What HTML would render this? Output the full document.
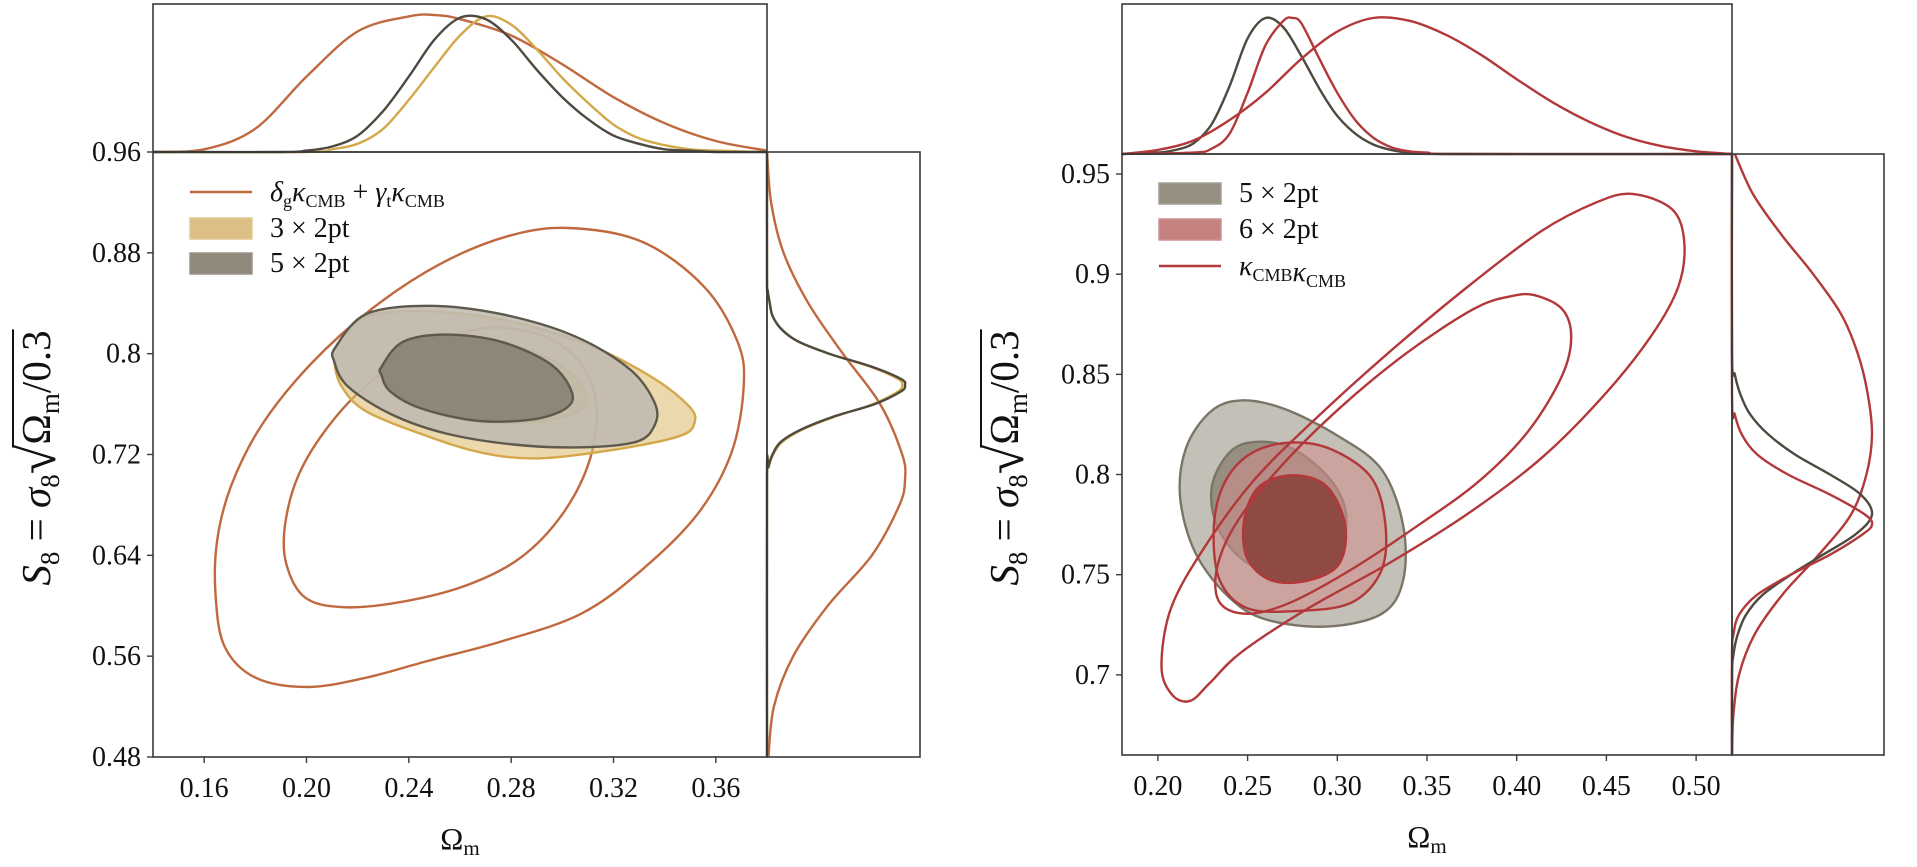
<!DOCTYPE html>
<html><head><meta charset="utf-8"><style>
html,body{margin:0;padding:0;background:#fff;}
svg{display:block;}
text{font-family:"Liberation Serif",serif;fill:#111;}
</style></head><body>
<svg id="fig" width="1917" height="867" viewBox="0 0 1917 867">
<g id="left"></g>
<g id="right"></g>
</svg>
<script>
// ---------- LEFT PANEL DATA ----------
const L_xTicks=[0.16,0.20,0.24,0.28,0.32,0.36];
const L_xTickLabels=["0.16","0.20","0.24","0.28","0.32","0.36"];
const L_yTicks=[0.48,0.56,0.64,0.72,0.80,0.88,0.96];
const L_yTickLabels=["0.48","0.56","0.64","0.72","0.8","0.88","0.96"];
const L_outerOm=[0.3025,0.3313,0.3553,0.3685,0.3709,0.3661,0.3529,0.3313,0.3073,0.2761,0.2473,0.2233,0.2005,0.1801,0.1681,0.1645,0.1650,0.1705,0.1825,0.2017,0.2257,0.2521,0.2785];
const L_outerS8=[0.8997,0.8887,0.8534,0.8094,0.7741,0.7213,0.6729,0.6288,0.5936,0.5716,0.5562,0.5429,0.5355,0.5429,0.5672,0.6068,0.6508,0.6949,0.7433,0.7918,0.8358,0.8710,0.8931];
const L_innerOm=[0.2785,0.2953,0.3073,0.3133,0.3109,0.3001,0.2833,0.2617,0.2353,0.2137,0.1993,0.1921,0.1916,0.1969,0.2089,0.2257,0.2473,0.2641];
const L_innerS8=[0.8204,0.8116,0.7918,0.7609,0.7169,0.6729,0.6376,0.6156,0.6024,0.5989,0.6068,0.6332,0.6641,0.7037,0.7433,0.7786,0.8050,0.8182];
const L_g3outOm=[0.2113,0.2233,0.2473,0.2761,0.3073,0.3337,0.3493,0.3517,0.3457,0.3193,0.2905,0.2689,0.2473,0.2233,0.2137,0.2108];
const L_g3outS8=[0.8050,0.8292,0.8336,0.8270,0.8094,0.7830,0.7587,0.7455,0.7345,0.7235,0.7169,0.7213,0.7345,0.7543,0.7741,0.7940];
const L_g3inOm=[0.2300,0.2385,0.2560,0.2790,0.2990,0.3090,0.3070,0.2920,0.2690,0.2460,0.2335,0.2300];
const L_g3inS8=[0.7896,0.8090,0.8145,0.8085,0.7910,0.7690,0.7555,0.7465,0.7455,0.7555,0.7697,0.7830];
const L_g5outOm=[0.2113,0.2233,0.2473,0.2761,0.3049,0.3265,0.3361,0.3361,0.3289,0.3073,0.2809,0.2545,0.2329,0.2161,0.2108];
const L_g5outS8=[0.8050,0.8314,0.8380,0.8314,0.8138,0.7874,0.7609,0.7433,0.7301,0.7257,0.7279,0.7367,0.7521,0.7741,0.7940];
const L_g5inOm=[0.2293,0.2377,0.2545,0.2761,0.2953,0.3037,0.3013,0.2881,0.2665,0.2449,0.2329,0.2293];
const L_g5inS8=[0.7896,0.8094,0.8151,0.8094,0.7918,0.7697,0.7565,0.7477,0.7468,0.7565,0.7697,0.7830];
const L_topOrX=[0.14,0.16,0.18,0.20,0.22,0.24,0.25,0.26,0.28,0.30,0.32,0.34,0.36,0.38];
const L_topOrD=[0.0,0.02,0.17,0.55,0.88,0.99,1.0,0.97,0.85,0.64,0.40,0.21,0.08,0.01];
const L_top5X=[0.14,0.19,0.20,0.21,0.22,0.23,0.24,0.25,0.26,0.27,0.28,0.29,0.30,0.31,0.32,0.33,0.34,0.35,0.36,0.38];
const L_top5D=[0,0,0.01,0.04,0.12,0.30,0.55,0.82,0.98,0.97,0.82,0.60,0.40,0.24,0.12,0.06,0.02,0.01,0,0];
const L_top3X=[0.14,0.20,0.21,0.22,0.23,0.24,0.25,0.26,0.27,0.28,0.29,0.30,0.31,0.32,0.33,0.34,0.35,0.36,0.38];
const L_top3D=[0,0,0.02,0.06,0.17,0.38,0.62,0.85,0.99,0.93,0.75,0.54,0.36,0.20,0.10,0.05,0.02,0.01,0];
const L_sideOrY=[0.96,0.92,0.88,0.84,0.80,0.76,0.72,0.70,0.68,0.64,0.60,0.56,0.52,0.48];
const L_sideOrD=[0,0.03,0.12,0.30,0.55,0.82,0.98,1.0,0.96,0.76,0.44,0.19,0.05,0.01];
const L_side5Y=[0.48,0.70,0.71,0.72,0.73,0.74,0.75,0.76,0.77,0.775,0.78,0.79,0.80,0.81,0.82,0.83,0.84,0.85,0.86,0.96];
const L_side5D=[0,0,0.01,0.04,0.10,0.25,0.48,0.78,0.97,1.0,0.97,0.75,0.45,0.22,0.10,0.04,0.02,0.005,0,0];
const L_side3D=[0,0,0.012,0.045,0.11,0.26,0.49,0.77,0.95,0.98,0.95,0.74,0.45,0.22,0.10,0.04,0.02,0.005,0,0];

// ---------- RIGHT PANEL DATA ----------
const R_xTicks=[0.20,0.25,0.30,0.35,0.40,0.45,0.50];
const R_xTickLabels=["0.20","0.25","0.30","0.35","0.40","0.45","0.50"];
const R_yTicks=[0.70,0.75,0.80,0.85,0.90,0.95];
const R_yTickLabels=["0.7","0.75","0.8","0.85","0.9","0.95"];
const R_kkOutOm=[0.4645,0.4866,0.4934,0.4900,0.4747,0.4474,0.4134,0.3725,0.3282,0.2839,0.2464,0.2290,0.2180,0.2080,0.2020,0.2073,0.2260,0.2533,0.2873,0.3282,0.3725,0.4134,0.4440];
const R_kkOutS8=[0.9401,0.9324,0.9158,0.8936,0.8688,0.8383,0.8079,0.7803,0.7554,0.7333,0.7112,0.6960,0.6870,0.6900,0.7040,0.7333,0.7637,0.7969,0.8273,0.8605,0.8936,0.9213,0.9357];
const R_kkInOm=[0.4100,0.4253,0.4304,0.4253,0.4066,0.3793,0.3452,0.3078,0.2737,0.2498,0.2345,0.2328,0.2430,0.2669,0.3009,0.3384,0.3759,0.3963];
const R_kkInS8=[0.8895,0.8826,0.8688,0.8494,0.8218,0.7969,0.7747,0.7526,0.7360,0.7305,0.7360,0.7526,0.7747,0.8024,0.8328,0.8605,0.8826,0.8889];
const R_g5outOm=[0.2464,0.2703,0.3009,0.3248,0.3367,0.3367,0.3248,0.2941,0.2601,0.2396,0.2209,0.2124,0.2158,0.2294];
const R_g5outS8=[0.8370,0.8328,0.8190,0.8024,0.7747,0.7471,0.7305,0.7241,0.7277,0.7388,0.7609,0.7886,0.8135,0.8314];
const R_g5inOm=[0.2533,0.2737,0.2941,0.3044,0.3027,0.2907,0.2669,0.2464,0.2328,0.2301,0.2396];
const R_g5inS8=[0.8162,0.8135,0.7996,0.7830,0.7637,0.7526,0.7499,0.7582,0.7747,0.7941,0.8107];
const R_g6outOm=[0.2703,0.2941,0.3180,0.3265,0.3248,0.3078,0.2771,0.2498,0.2345,0.2311,0.2362,0.2498];
const R_g6outS8=[0.8157,0.8135,0.7996,0.7775,0.7526,0.7360,0.7319,0.7333,0.7471,0.7720,0.7941,0.8093];
const R_g6inOm=[0.2754,0.2941,0.3044,0.3010,0.2839,0.2635,0.2498,0.2481,0.2566];
const R_g6inS8=[0.7996,0.7941,0.7747,0.7554,0.7471,0.7471,0.7582,0.7775,0.7941];
const R_top5X=[0.18,0.20,0.21,0.22,0.23,0.24,0.25,0.26,0.27,0.28,0.29,0.30,0.31,0.32,0.33,0.34,0.36,0.52];
const R_top5D=[0,0.01,0.03,0.08,0.22,0.50,0.85,1.0,0.93,0.72,0.48,0.28,0.15,0.07,0.03,0.01,0,0];
const R_top6X=[0.18,0.22,0.23,0.24,0.25,0.26,0.27,0.275,0.28,0.29,0.30,0.31,0.32,0.33,0.34,0.35,0.37,0.52];
const R_top6D=[0,0.01,0.04,0.15,0.45,0.80,0.98,1.0,0.96,0.70,0.45,0.25,0.12,0.05,0.02,0.01,0,0];
const R_topKX=[0.18,0.20,0.22,0.24,0.26,0.28,0.30,0.32,0.34,0.36,0.38,0.40,0.42,0.44,0.46,0.48,0.50,0.52];
const R_topKD=[0,0.03,0.10,0.25,0.45,0.70,0.90,1.0,0.98,0.88,0.73,0.55,0.38,0.24,0.13,0.06,0.02,0];
const R_sideKY=[0.96,0.94,0.92,0.90,0.88,0.86,0.84,0.82,0.80,0.78,0.76,0.74,0.72,0.70,0.68,0.66];
const R_sideKD=[0.02,0.15,0.35,0.58,0.78,0.90,0.97,1.0,0.96,0.85,0.62,0.36,0.16,0.05,0.01,0];
const R_side5Y=[0.66,0.70,0.71,0.72,0.73,0.74,0.75,0.76,0.77,0.78,0.79,0.80,0.81,0.82,0.83,0.84,0.85,0.86,0.96];
const R_side5D=[0,0,0.01,0.04,0.10,0.22,0.42,0.65,0.88,1.0,0.92,0.70,0.45,0.26,0.13,0.06,0.02,0,0];
const R_side6Y=[0.66,0.71,0.72,0.73,0.74,0.75,0.76,0.77,0.775,0.78,0.79,0.80,0.81,0.82,0.83,0.84,0.96];
const R_side6D=[0,0,0.01,0.05,0.18,0.42,0.70,0.93,1.0,0.95,0.70,0.40,0.18,0.07,0.02,0,0];

const NS="http://www.w3.org/2000/svg";
function mk(parent,tag,attrs){const e=document.createElementNS(NS,tag);for(const k in attrs)e.setAttribute(k,attrs[k]);parent.appendChild(e);return e;}
function crPath(pts,closed){
  const n=pts.length;let d="M"+pts[0][0].toFixed(1)+","+pts[0][1].toFixed(1);
  const get=i=>closed?pts[(i+n)%n]:pts[Math.max(0,Math.min(n-1,i))];
  const segs=closed?n:n-1;
  for(let i=0;i<segs;i++){
    const p0=get(i-1),p1=get(i),p2=get(i+1),p3=get(i+2);
    const c1=[p1[0]+(p2[0]-p0[0])/6,p1[1]+(p2[1]-p0[1])/6];
    const c2=[p2[0]-(p3[0]-p1[0])/6,p2[1]-(p3[1]-p1[1])/6];
    d+="C"+c1[0].toFixed(1)+","+c1[1].toFixed(1)+" "+c2[0].toFixed(1)+","+c2[1].toFixed(1)+" "+p2[0].toFixed(1)+","+p2[1].toFixed(1);
  }
  return d+(closed?"Z":"");
}

function buildPanel(cfg){
  const g=document.getElementById(cfg.id);
  const xs=v=>cfg.x0+(v-cfg.xmin)/(cfg.xmax-cfg.xmin)*(cfg.x1-cfg.x0);
  const ys=v=>cfg.y1-(v-cfg.ymin)/(cfg.ymax-cfg.ymin)*(cfg.y1-cfg.y0);
  const clipId=cfg.id+"-clip";
  const defs=mk(g,"defs",{});
  const cp=mk(defs,"clipPath",{id:clipId});
  mk(cp,"rect",{x:cfg.x0,y:cfg.y0,width:cfg.x1-cfg.x0,height:cfg.y1-cfg.y0});
  const plot=mk(g,"g",{"clip-path":"url(#"+clipId+")"});
  
  
  cfg.contours.forEach(c=>{
    const pts=c.om.map((v,i)=>[xs(v),ys(c.s8[i])]);
    const p=mk(plot,"path",{d:crPath(pts,true),fill:c.fill,stroke:c.stroke,"stroke-width":c.sw||2.4});
    
    
  });
  const topH=cfg.y0-cfg.topPeak;
  cfg.top.forEach(m=>{
    const pts=m.x.map((v,i)=>[xs(v),cfg.y0-m.d[i]*topH]);
    const p=mk(g,"path",{d:crPath(pts,false),fill:"none",stroke:m.stroke,"stroke-width":2.4});
    
    
  });
  const sideW=cfg.sidePeak-cfg.x1;
  cfg.side.forEach(m=>{
    const pts=m.y.map((v,i)=>[cfg.x1+m.d[i]*sideW,ys(v)]);
    const p=mk(g,"path",{d:crPath(pts,false),fill:"none",stroke:m.stroke,"stroke-width":2.4});
    
    
  });
  const fs={fill:"none",stroke:"#3a3a3a","stroke-width":1.6};
  const f1=mk(g,"rect",Object.assign({x:cfg.x0,y:cfg.y0,width:cfg.x1-cfg.x0,height:cfg.y1-cfg.y0},fs));
  
  const f2=mk(g,"rect",Object.assign({x:cfg.x0,y:cfg.topY,width:cfg.x1-cfg.x0,height:cfg.y0-cfg.topY},fs));
  
  const f3=mk(g,"rect",Object.assign({x:cfg.x1,y:cfg.y0,width:cfg.sideX-cfg.x1,height:cfg.y1-cfg.y0},fs));
  
  cfg.xTicks.forEach((v,i)=>{
    const x=xs(v);
    const t=mk(g,"line",{x1:x,x2:x,y1:cfg.y1,y2:cfg.y1+6,stroke:"#3a3a3a","stroke-width":1.4});
    
    const l=mk(g,"text",{x:x,y:cfg.y1+40,"text-anchor":"middle","font-size":28});
    l.textContent=cfg.xTickLabels[i];
    
  });
  cfg.yTicks.forEach((v,i)=>{
    const y=ys(v);
    const t=mk(g,"line",{x1:cfg.x0-6,x2:cfg.x0,y1:y,y2:y,stroke:"#3a3a3a","stroke-width":1.4});
    
    const l=mk(g,"text",{x:cfg.x0-12,y:y+9,"text-anchor":"end","font-size":28});
    l.textContent=cfg.yTickLabels[i];
    
  });
  const xt=mk(g,"text",{x:(cfg.x0+cfg.x1)/2,y:cfg.y1+92,"text-anchor":"middle","font-size":31});
  xt.innerHTML='Ω<tspan font-size="21" dy="6">m</tspan>';
  
  // y title
  const yg=mk(g,"g",{transform:"translate("+cfg.ylx+","+cfg.yly+") rotate(-90)"});
  
  const t=mk(yg,"text",{x:0,y:0,"font-size":41,"text-anchor":"middle"});
  t.innerHTML='<tspan font-style="italic">S</tspan><tspan font-size="27" dy="9">8</tspan><tspan dy="-9"> = </tspan><tspan font-style="italic">σ</tspan><tspan font-size="27" dy="9">8</tspan><tspan dy="-4" font-size="54">√</tspan><tspan dy="-5">Ω</tspan><tspan font-size="27" dy="9">m</tspan><tspan dy="-9">/0.3</tspan>';
  try{
    const s=t.textContent; const iO=s.indexOf("Ω"); const last=s.length-1;
    const a=t.getStartPositionOfChar(iO).x, b=t.getEndPositionOfChar(last).x;
    mk(yg,"line",{x1:a-3,x2:b+1,y1:-37,y2:-37,stroke:"#111","stroke-width":2});
  }catch(e){mk(yg,"line",{x1:-10,x2:140,y1:-37,y2:-37,stroke:"#111","stroke-width":2});}
  cfg.legend.forEach(e=>{
    let sw;
    if(e.type==="line") sw=mk(g,"line",{x1:e.x,x2:e.x+62,y1:e.y,y2:e.y,stroke:e.color,"stroke-width":2.6});
    else sw=mk(g,"rect",{x:e.x,y:e.y-10,width:62,height:21,fill:e.color,stroke:e.edge,"stroke-width":1.5});
    
    const tx=mk(g,"text",{x:e.x+80,y:e.y+9,"font-size":28});
    tx.innerHTML=e.label;
    
  });
}

const orange="#c0693f", gold="#d4a84a", greyEdge="#5e594d", red="#b2383a";
const kappa='<tspan font-style="italic">κ</tspan><tspan font-size="18" dy="6">CMB</tspan><tspan dy="-6"></tspan>';
buildPanel({id:"left",x0:153,x1:767,y0:152,y1:757,topY:4,sideX:920,topPeak:15,sidePeak:905,
  xmin:0.14,xmax:0.38,ymin:0.48,ymax:0.96,xTicks:L_xTicks,xTickLabels:L_xTickLabels,yTicks:L_yTicks,yTickLabels:L_yTickLabels,
  ylx:50,yly:458,
  contours:[
    {name:"orange-outer-contour",om:L_outerOm,s8:L_outerS8,fill:"none",stroke:orange},
    {name:"orange-inner-contour",om:L_innerOm,s8:L_innerS8,fill:"none",stroke:orange},
    {name:"3x2pt-outer",om:L_g3outOm,s8:L_g3outS8,fill:"rgba(222,190,118,0.6)",stroke:gold},
    {name:"3x2pt-inner",om:L_g3inOm,s8:L_g3inS8,fill:"rgba(210,170,90,0.6)",stroke:gold},
    {name:"5x2pt-outer",om:L_g5outOm,s8:L_g5outS8,fill:"rgba(190,186,176,0.85)",stroke:greyEdge},
    {name:"5x2pt-inner",om:L_g5inOm,s8:L_g5inS8,fill:"#8e8777",stroke:greyEdge}
  ],
  top:[{name:"top-marginal-orange",x:L_topOrX,d:L_topOrD,stroke:orange},{name:"top-marginal-3x2pt",x:L_top3X,d:L_top3D,stroke:gold},{name:"top-marginal-5x2pt",x:L_top5X,d:L_top5D,stroke:"#4e4a40"}],
  side:[{name:"side-marginal-orange",y:L_sideOrY,d:L_sideOrD,stroke:orange},{name:"side-marginal-3x2pt",y:L_side5Y,d:L_side3D,stroke:gold},{name:"side-marginal-5x2pt",y:L_side5Y,d:L_side5D,stroke:"#4e4a40"}],
  legend:[
    {type:"line",x:190,y:192,color:orange,label:'<tspan font-style="italic">δ</tspan><tspan font-size="18" dy="6">g</tspan><tspan dy="-6" font-style="italic">κ</tspan><tspan font-size="18" dy="6">CMB</tspan><tspan dy="-6"> + </tspan><tspan font-style="italic">γ</tspan><tspan font-size="18" dy="6">t</tspan><tspan dy="-6" font-style="italic">κ</tspan><tspan font-size="18" dy="6">CMB</tspan>'},
    {type:"rect",x:190,y:228,color:"#dcbf84",edge:"#e2c892",label:'3 × 2pt'},
    {type:"rect",x:190,y:263,color:"#8f897b",edge:"#9a9588",label:'5 × 2pt'}
  ]});
buildPanel({id:"right",x0:1122,x1:1732,y0:154,y1:755,topY:4,sideX:1884,topPeak:18,sidePeak:1872,
  xmin:0.18,xmax:0.52,ymin:0.66,ymax:0.96,xTicks:R_xTicks,xTickLabels:R_xTickLabels,yTicks:R_yTicks,yTickLabels:R_yTickLabels,
  ylx:1018,yly:458,
  contours:[
    {name:"5x2pt-outer",om:R_g5outOm,s8:R_g5outS8,fill:"rgba(185,181,170,0.85)",stroke:"#7a7566"},
    {name:"5x2pt-inner",om:R_g5inOm,s8:R_g5inS8,fill:"#968f80",stroke:"#7a7566"},
    {name:"6x2pt-outer",om:R_g6outOm,s8:R_g6outS8,fill:"rgba(210,140,140,0.55)",stroke:red},
    {name:"6x2pt-inner",om:R_g6inOm,s8:R_g6inS8,fill:"#8f4a44",stroke:red},
    {name:"kk-outer-contour",om:R_kkOutOm,s8:R_kkOutS8,fill:"none",stroke:red},
    {name:"kk-inner-contour",om:R_kkInOm,s8:R_kkInS8,fill:"none",stroke:red}
  ],
  top:[{name:"top-marginal-5x2pt",x:R_top5X,d:R_top5D,stroke:"#4e4a40"},{name:"top-marginal-6x2pt",x:R_top6X,d:R_top6D,stroke:red},{name:"top-marginal-kk",x:R_topKX,d:R_topKD,stroke:red}],
  side:[{name:"side-marginal-kk",y:R_sideKY,d:R_sideKD,stroke:red},{name:"side-marginal-5x2pt",y:R_side5Y,d:R_side5D,stroke:"#4e4a40"},{name:"side-marginal-6x2pt",y:R_side6Y,d:R_side6D,stroke:red}],
  legend:[
    {type:"rect",x:1159,y:193,color:"#958f82",edge:"#a29d92",label:'5 × 2pt'},
    {type:"rect",x:1159,y:229,color:"#c58180",edge:"#cf9190",label:'6 × 2pt'},
    {type:"line",x:1159,y:266,color:red,label:kappa+'<tspan font-style="italic">κ</tspan><tspan font-size="18" dy="6">CMB</tspan>'}
  ]});
</script>
</body></html>
